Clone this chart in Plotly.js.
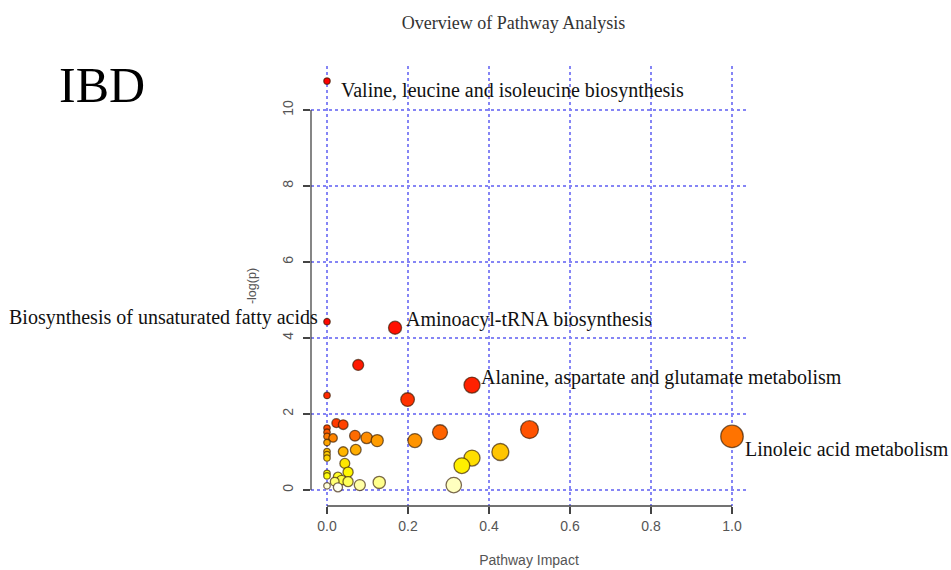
<!DOCTYPE html>
<html><head><meta charset="utf-8">
<script src="https://cdn.plot.ly/plotly-3.0.1.min.js"></script>
<style>html,body{margin:0;padding:0;background:#fff}#chart{width:951px;height:570px}</style>
</head><body><div id="chart"></div>
<script>
// ---- data ----
const impact = [0, 0, 0.168, 0.077, 0.358, 0, 0.199, 0.023, 0.040, 0,
                0.50, 0, 0.279, 0.069, 1.0, 0, 0.015, 0.098, 0.217, 0.124,
                0, 0.071, 0.040, 0, 0.428, 0, 0, 0.358, 0.044, 0.333,
                0.052, 0, 0, 0.027, 0.036, 0.052, 0.019, 0.129, 0.081, 0.313,
                0, 0.027];
const negLogP = [10.76, 4.43, 4.27, 3.29, 2.76, 2.49, 2.38, 1.76, 1.72, 1.63,
                 1.59, 1.52, 1.52, 1.43, 1.41, 1.41, 1.37, 1.37, 1.30, 1.30,
                 1.25, 1.06, 1.01, 1.01, 1.00, 0.93, 0.84, 0.84, 0.70, 0.64,
                 0.47, 0.44, 0.37, 0.35, 0.26, 0.22, 0.22, 0.20, 0.13, 0.13,
                 0.11, 0.07];
const pathwayNames = ['Valine, leucine and isoleucine biosynthesis',
                      'Biosynthesis of unsaturated fatty acids',
                      'Aminoacyl-tRNA biosynthesis', '',
                      'Alanine, aspartate and glutamate metabolism',
                      '', '', '', '', '', '', '', '', '',
                      'Linoleic acid metabolism'];
const xTickVals = [0, 0.2, 0.4, 0.6, 0.8, 1.0];
const xTickText = ['0.0', '0.2', '0.4', '0.6', '0.8', '1.0'];
const yTickVals = [0, 2, 4, 6, 8, 10];
const yTickText = ['0', '2', '4', '6', '8', '10'];
const chartTitle = 'Overview of Pathway Analysis';
const panelTag = 'IBD';

// ---- R heat.colors, assigned by rank of -log(p) ----
function heatColors(n) {
  const j = Math.floor(n / 4), i = n - j, out = [];
  const hsv2rgb = (h, s, v) => {
    const f = (k) => { const kk = (k + h * 6) % 6; return v - v * s * Math.max(0, Math.min(kk, 4 - kk, 1)); };
    return 'rgb(' + [f(5), f(3), f(1)].map(c => Math.round(c * 255)).join(',') + ')';
  };
  for (let k = 0; k < i; k++) out.push(hsv2rgb(i > 1 ? (k / (i - 1)) / 6 : 0, 1, 1));
  for (let k = 0; k < j; k++) {
    const s = j > 1 ? (1 - 1 / (2 * j)) + k * ((1 / (2 * j)) - (1 - 1 / (2 * j))) / (j - 1) : 0.5;
    out.push(hsv2rgb(1 / 6, s, 1));
  }
  return out;
}
const order = negLogP.map((v, k) => k).sort((a, b) => negLogP[b] - negLogP[a]);
const palette = heatColors(negLogP.length);
const fillColors = new Array(negLogP.length);
order.forEach((idx, r) => { fillColors[idx] = palette[r]; });
const markerSizes = impact.map(v => 6.5 + 16 * Math.sqrt(v));

const trace = {
  type: 'scatter', mode: 'markers', x: impact, y: negLogP,
  marker: { size: markerSizes, color: fillColors, opacity: 1,
            line: { color: 'rgba(50,25,0,0.65)', width: 1.3 } },
  hoverinfo: 'x+y', showlegend: false, cliponaxis: false
};

// label placement (pixel shifts relative to the point)
const labelStyle = {
  0: { xs: 12, ys: -9, anchor: 'left' },
  1: { xs: -7, ys: 4, anchor: 'right' },
  2: { xs: 9, ys: 8, anchor: 'left' },
  4: { xs: 7, ys: 8, anchor: 'left' },
  14: { xs: 11, ys: -13, anchor: 'left' }
};
const annotations = [];
pathwayNames.forEach((name, k) => {
  if (!name) return;
  const st = labelStyle[k];
  annotations.push({ text: name, x: impact[k], y: negLogP[k], xref: 'x', yref: 'y',
    xanchor: st.anchor, yanchor: 'middle', xshift: st.xs, yshift: st.ys, showarrow: false,
    font: { family: 'Liberation Serif, Times New Roman, serif', size: 20, color: '#111' } });
});
annotations.push({ text: panelTag, xref: 'paper', yref: 'paper', x: -0.583, y: 0.957,
  xanchor: 'left', yanchor: 'middle', showarrow: false,
  font: { family: 'Liberation Serif, Times New Roman, serif', size: 50, color: '#000' } });

const gridStyle = { showgrid: true, gridcolor: '#8585f5', gridwidth: 1.5, griddash: 'dot', zeroline: false };
const layout = {
  width: 951, height: 570,
  margin: { l: 311, r: 204, t: 66, b: 64 },
  paper_bgcolor: '#fff', plot_bgcolor: '#fff',
  title: { text: chartTitle, xref: 'container', yref: 'container', x: 0.54, y: 0.961,
           xanchor: 'center', yanchor: 'middle',
           font: { family: 'Liberation Serif, Times New Roman, serif', size: 18, color: '#333' } },
  xaxis: Object.assign({
    range: [-16 / 405, -16 / 405 + 436 / 405], tickmode: 'array', tickvals: xTickVals, ticktext: xTickText,
    ticks: 'outside', ticklen: 7, tickwidth: 1.2, tickcolor: '#444', showline: false,
    tickfont: { family: 'Liberation Sans, Arial, sans-serif', size: 14, color: '#555' },
    title: { text: 'Pathway Impact', standoff: 22,
             font: { family: 'Liberation Sans, Arial, sans-serif', size: 14, color: '#555' } },
    automargin: false, fixedrange: true }, gridStyle),
  yaxis: Object.assign({
    range: [-16 / 38, -16 / 38 + 440 / 38], tickmode: 'array', tickvals: yTickVals, ticktext: yTickText,
    ticks: 'outside', ticklen: 7, tickwidth: 1.2, tickcolor: '#444', showline: false,
    tickangle: -90, ticklabelstandoff: 4,
    tickfont: { family: 'Liberation Sans, Arial, sans-serif', size: 14, color: '#555' },
    title: { text: '-log(p)', standoff: 21,
             font: { family: 'Liberation Sans, Arial, sans-serif', size: 12.5, color: '#555' } },
    automargin: false, fixedrange: true }, gridStyle),
  shapes: [
    { type: 'line', xref: 'x', yref: 'paper', x0: xTickVals[0], x1: xTickVals[xTickVals.length - 1], y0: 0, y1: 0,
      line: { color: '#444', width: 1.3 } },
    { type: 'line', xref: 'paper', yref: 'y', x0: 0, x1: 0, y0: yTickVals[0], y1: yTickVals[yTickVals.length - 1],
      line: { color: '#444', width: 1.3 } }
  ],
  annotations: annotations
};
Plotly.newPlot('chart', [trace], layout, { displayModeBar: false, staticPlot: true });
</script></body></html>
